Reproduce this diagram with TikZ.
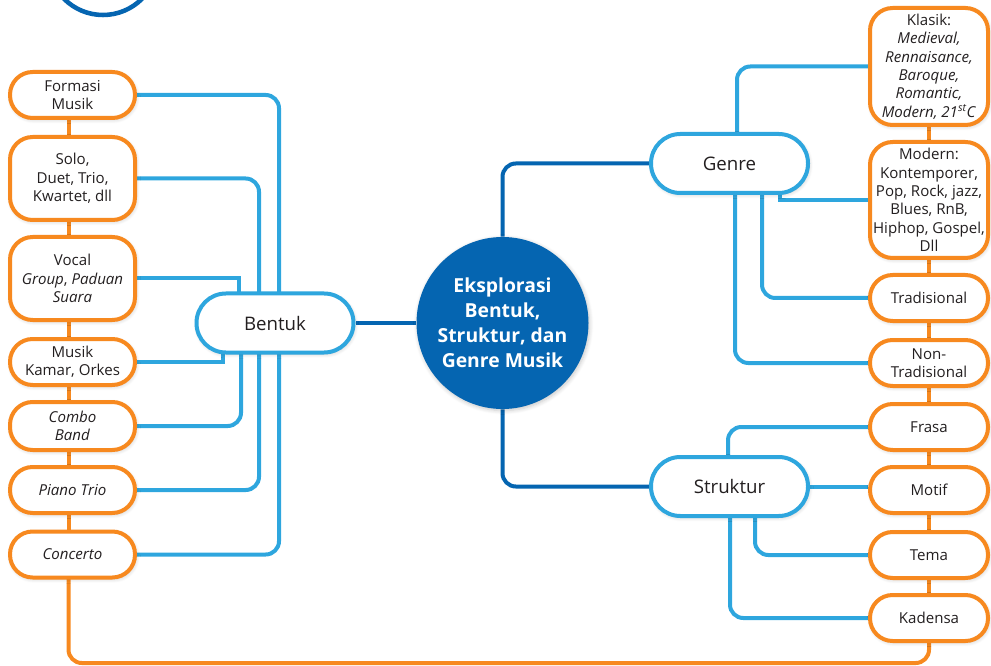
\documentclass[tikz,border=0pt]{standalone}
\usepackage{fontspec}
\setmainfont{Open Sans}
\usetikzlibrary{backgrounds,shadows.blur}

\definecolor{naranja}{HTML}{F7891F}
\definecolor{celeste}{HTML}{2EA6DE}
\definecolor{azul}{HTML}{0565B1}
\definecolor{texto}{HTML}{231F20}

\tikzset{
  sombra/.style={blur shadow={shadow blur steps=6, shadow xshift=0.8pt, shadow yshift=-1.2pt, shadow blur radius=3pt, shadow opacity=22}},
  hoja/.style={draw=naranja, line width=3pt, fill=white, rounded corners=17pt, align=center, text=texto,
    font=\fontsize{11.3}{13.8}\selectfont, inner sep=1pt, minimum height=34.5pt, sombra},
  hojaizq/.style={hoja, minimum width=93.75pt},
  hojader/.style={hoja, minimum width=88.5pt},
  rama/.style={draw=celeste, line width=3pt, fill=white, rounded corners=22pt, text=texto,
    font=\fontsize{14}{17}\selectfont, minimum width=117.75pt, minimum height=44.25pt, sombra},
  enlace/.style={draw=celeste, line width=3pt, rounded corners=10pt},
  tronco/.style={draw=azul, line width=3pt, rounded corners=10pt},
  cadena/.style={draw=naranja, line width=3pt, rounded corners=10pt},
}

\begin{document}
\begin{tikzpicture}[x=0.75pt, y=-0.75pt]
\useasboundingbox (0,0) rectangle (991,666);

% Aro decorativo (cortado arriba)
\begin{scope}
\clip (0,0) rectangle (991,666);
\draw[azul, line width=3.4pt] (103,-40) circle[radius=55];
\end{scope}

% Nodo central
\node[circle, fill=azul, inner sep=0pt, minimum size=129pt, text=white, align=center,
  font=\bfseries\fontsize{14.5}{18.75}\selectfont, sombra] (centro) at (502.5,323)
  {Eksplorasi\\Bentuk,\\Struktur, dan\\Genre Musik};

% Ramas principales
\node[rama] (bentuk) at (275,323) {Bentuk};
\node[rama] (genre) at (729.5,163.5) {Genre};
\node[rama] (struktur) at (729.5,486.5) {Struktur};

% Hojas de Bentuk (izquierda)
\node[hojaizq] (formasi) at (72.5,95) {Formasi\\Musik};
\node[hojaizq, minimum height=62.25pt] (solo) at (72.5,178.5) {Solo,\\Duet, Trio,\\Kwartet, dll};
\node[hojaizq, minimum height=62.25pt] (vocal) at (72.5,278.5) {Vocal\\\textit{Group}, \textit{Paduan}\\\textit{Suara}};
\node[hojaizq] (kamar) at (72.5,362) {Musik\\Kamar, Orkes};
\node[hojaizq, minimum height=36pt] (combo) at (72.5,426) {\textit{Combo}\\\textit{Band}};
\node[hojaizq] (piano) at (72.5,490) {\textit{Piano Trio}};
\node[hojaizq] (concerto) at (72.5,554.5) {\textit{Concerto}};

% Hojas de Genre y Struktur (derecha)
\node[hojader, minimum height=87.75pt] (klasik) at (929,66.5)
  {Klasik:\\\textit{Medieval,}\\\textit{Rennaisance,}\\\textit{Baroque,}\\\textit{Romantic,}\\\textit{Modern, 21\textsuperscript{st}C}};
\node[hojader, minimum height=87pt] (modern) at (929,200)
  {Modern:\\Kontemporer,\\Pop, Rock, jazz,\\Blues, RnB,\\Hiphop, Gospel,\\Dll};
\node[hojader] (trad) at (929,298) {Tradisional};
\node[hojader] (nontrad) at (929,363) {Non-\\Tradisional};
\node[hojader] (frasa) at (929,427) {Frasa};
\node[hojader] (motif) at (929,490) {Motif};
\node[hojader] (tema) at (929,555) {Tema};
\node[hojader] (kadensa) at (929,618) {Kadensa};

\begin{scope}[on background layer]
% Tronco desde el centro
\draw[tronco] (centro) |- (genre);
\draw[tronco] (centro) |- (struktur);
\draw[tronco] (centro) -- (bentuk);

% Enlaces de Bentuk
\foreach \h/\dx in {formasi/4, solo/-16, combo/-34, piano/-16, concerto/4}
  \draw[enlace] (\h.east) -| ([shift={(\dx,0)}]bentuk.center);
\foreach \h/\dx in {vocal/-36, kamar/-52}
  \draw[enlace, sharp corners] (\h.east) -| ([shift={(\dx,0)}]bentuk.center);

% Enlaces de Genre
\foreach \h/\dx in {klasik/7.5, trad/32.5, nontrad/5.5}
  \draw[enlace] (\h.west) -| ([shift={(\dx,0)}]genre.center);
\draw[enlace, sharp corners] (modern.west) -| ([shift={(50.5,0)}]genre.center);

% Enlaces de Struktur
\foreach \h/\dx in {frasa/-1.5, tema/25.5, kadensa/0.5}
  \draw[enlace] (\h.west) -| ([shift={(\dx,0)}]struktur.center);
\draw[enlace] (struktur.east) -- (struktur.east -| motif.west);

% Cadena naranja
\foreach \a/\b in {formasi/solo, solo/vocal, vocal/kamar, kamar/combo, combo/piano, piano/concerto}
  \draw[cadena] ([xshift=-3pt]\a.center) -- ([xshift=-3pt]\b.center);
\draw[cadena] (klasik) -- (modern) -- (trad) -- (nontrad) -- (frasa) -- (motif) -- (tema) -- (kadensa);
\coordinate (base) at (0,663);
\draw[cadena] ([xshift=-3pt]concerto.center) |- (base -| kadensa) -- (kadensa);
\end{scope}

\end{tikzpicture}
\end{document}
